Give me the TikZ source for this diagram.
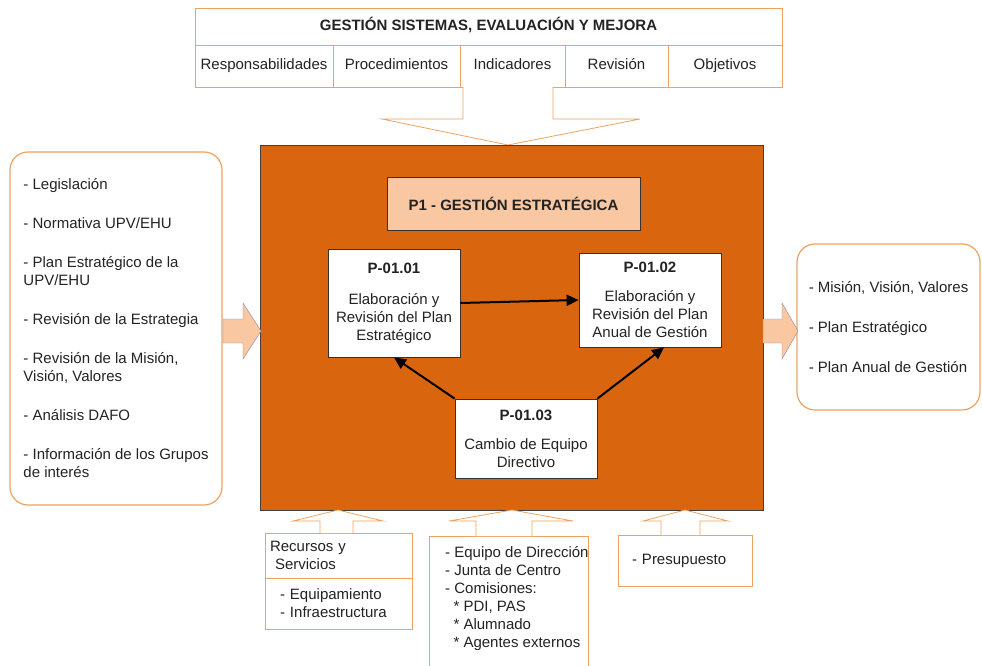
\documentclass[tikz,border=0pt]{standalone}
\usepackage{fontspec}
\setmainfont{Liberation Sans}
\usepackage{tikz}
\usetikzlibrary{shapes.geometric, arrows, arrows.meta}
\definecolor{naranja}{RGB}{217,101,14}
\definecolor{borde}{RGB}{238,162,96}
\definecolor{melocoton}{RGB}{249,200,163}
\definecolor{flecha}{RGB}{150,135,150}
\definecolor{texto}{RGB}{35,35,35}
\tikzstyle{celda} = [rectangle, draw=borde, thick, fill=white, text=texto, inner sep=0pt, align=center, text height=11pt, text depth=3pt]
\tikzstyle{proceso} = [rectangle, draw=black!80, thick, fill=white, text=texto, inner sep=0pt, align=center]
\tikzstyle{entrada} = [rectangle, rounded corners=18pt, draw=borde, very thick, fill=white, text=texto, align=left, inner sep=0pt]
\tikzstyle{arrow} = [line width=2pt, -{Triangle[length=12pt, width=11pt]}]
\tikzstyle{bloque} = [draw=borde, thick, fill=white]
\tikzstyle{gruesa} = [draw=flecha, fill=melocoton]

\begin{document}
\begin{tikzpicture}[x=1pt, y=-1pt, font=\fontsize{15}{18}\selectfont]
  \useasboundingbox (0,0) rectangle (982,666);
  % tabla de arriba
  \node(gsem)[celda, minimum width=587pt, minimum height=37pt, font=\fontsize{15}{18}\selectfont\bfseries] at (488.5,26.5) {GESTIÓN SISTEMAS, EVALUACIÓN Y MEJORA};
  \node(resp)[celda, minimum width=138pt, minimum height=42pt] at (264,66) {Responsabilidades};
  \node(proc)[celda, minimum width=127pt, minimum height=42pt] at (396.5,66) {Procedimientos};
  \node(ind)[celda, minimum width=105pt, minimum height=42pt] at (512.5,66) {Indicadores};
  \node(rev)[celda, minimum width=103pt, minimum height=42pt] at (616.5,66) {Revisión};
  \node(obj)[celda, minimum width=114pt, minimum height=42pt] at (725,66) {Objetivos};
  \draw[bloque] (463,87) -- (463,119) -- (382,119) -- (508,145) -- (640,119) -- (553,119) -- (553,87);

  % proceso central
  \node(gest)[rectangle, draw=black!75, thick, fill=naranja, minimum width=503pt, minimum height=365pt] at (511.5,327.5) {};
  \node(p1)[proceso, fill=melocoton, minimum width=253pt, minimum height=53pt, font=\fontsize{15}{18}\selectfont\bfseries] at (513.5,203.5) {P1 - GESTIÓN ESTRATÉGICA};
  \node(a)[proceso, minimum width=132pt, minimum height=108pt] at (394,303) {\textbf{P-01.01}\\[13pt]Elaboración y\\Revisión del Plan\\Estratégico};
  \node(b)[proceso, minimum width=142pt, minimum height=94pt] at (650,300) {\textbf{P-01.02}\\[11pt]Elaboración y\\Revisión del Plan\\Anual de Gestión};
  \node(c)[proceso, minimum width=142pt, minimum height=79pt] at (526,438.5) {\textbf{P-01.03}\\[11pt]Cambio de Equipo\\Directivo};
  \draw[arrow] (a.east) -- (b.west);
  \draw[arrow] (c.north west) -- (a.south);
  \draw[arrow] (c.north east) -- ([xshift=14pt]b.south);

  % entradas y salidas
  \node(ent)[entrada, minimum width=212pt, minimum height=353pt] at (116,328.5) {- Legislación\\[21pt]- Normativa UPV/EHU\\[21pt]- Plan Estratégico de la\\UPV/EHU\\[21pt]- Revisión de la Estrategia\\[21pt]- Revisión de la Misión,\\Visión, Valores\\[21pt]- Análisis DAFO\\[21pt]- Información de los Grupos\\de interés};
  \node(sal)[entrada, minimum width=183pt, minimum height=166pt] at (888.5,327) {- Misión, Visión, Valores\\[22pt]- Plan Estratégico\\[22pt]- Plan Anual de Gestión};
  \draw[gruesa] (223,319) -- (243,319) -- (243,303) -- (261,331) -- (243,359) -- (243,343) -- (223,343) -- cycle;
  \draw[gruesa] (763,319) -- (782,319) -- (782,303) -- (798,331) -- (782,359) -- (782,343) -- (763,343) -- cycle;

  % recursos
  \node(rys)[celda, minimum width=147pt, minimum height=45pt, text width=137pt, inner xsep=5pt, align=left, text height=, text depth=] at (338.5,555.5) {Recursos y\\\ Servicios};
  \node(equ)[celda, minimum width=147pt, minimum height=51pt, text width=117pt, inner xsep=15pt, align=left, text height=, text depth=] at (338.5,603.5) {- Equipamiento\\- Infraestructura};
  \node(eqd)[celda, minimum width=159pt, minimum height=140pt, anchor=north west] at (429,536) {};
  \node(eqdtxt)[anchor=north west, align=left, inner sep=0pt, text=texto] at (445,546) {- Equipo de Dirección\\- Junta de Centro\\- Comisiones:\\\ \ * PDI, PAS\\\ \ * Alumnado\\\ \ * Agentes externos};
  \node(pre)[celda, minimum width=134pt, minimum height=51pt, text width=106pt, inner xsep=14pt, align=left] at (685,560.5) {- Presupuesto};
  \draw[bloque] (320,533) -- (320,521) -- (293,521) -- (338,510) -- (383,521) -- (353,521) -- (353,533);
  \draw[bloque] (476,536) -- (476,521) -- (449,521) -- (512,510) -- (573,521) -- (532,521) -- (532,536);
  \draw[bloque] (661,535) -- (661,521) -- (643,521) -- (685,510) -- (728,521) -- (700,521) -- (700,535);
\end{tikzpicture}
\end{document}
